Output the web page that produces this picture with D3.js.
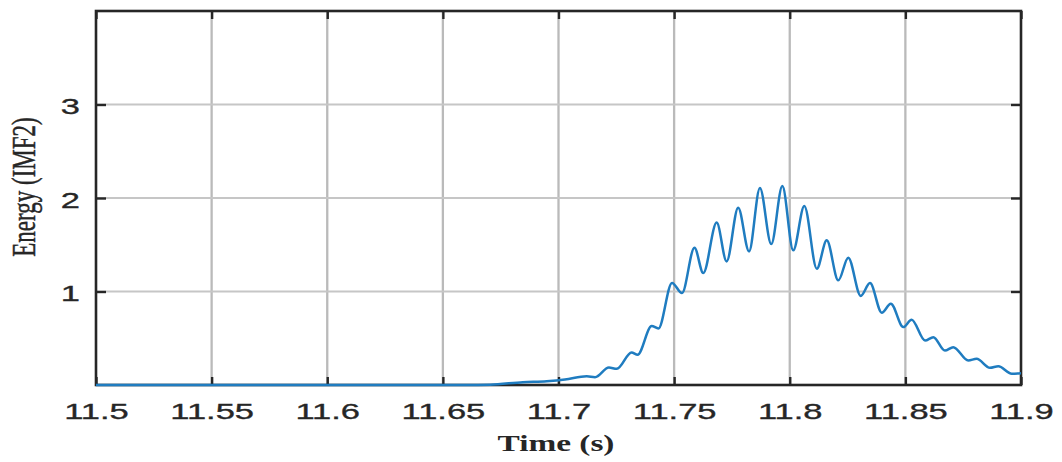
<!DOCTYPE html>
<html>
<head>
<meta charset="utf-8">
<script src="https://cdn.jsdelivr.net/npm/d3@7"></script>
<style>
  html, body { margin: 0; padding: 0; background: #fff; }
  svg { display: block; }
</style>
</head>
<body>
<svg id="chart" width="1062" height="462"></svg>
<script>
// Energy of IMF2 over time
const time = [11.5, 11.66, 11.6704, 11.6846, 11.6949, 11.7028, 11.7122, 11.7158, 11.7218, 11.7252,
  11.7316, 11.7342, 11.7403, 11.7432, 11.7491, 11.7534, 11.7588, 11.7626, 11.7684, 11.7727,
  11.7777, 11.7824, 11.7871, 11.7920, 11.7968, 11.8015, 11.8063, 11.8117, 11.8160, 11.8210,
  11.8253, 11.8307, 11.8347, 11.8398, 11.8437, 11.8491, 11.8527, 11.8585, 11.8621, 11.8671,
  11.8707, 11.8772, 11.8808, 11.8866, 11.8902, 11.8960, 11.9];
const energy = [0, 0, 0.004, 0.030, 0.041, 0.059, 0.094, 0.084, 0.187, 0.173,
  0.348, 0.324, 0.632, 0.605, 1.092, 0.983, 1.469, 1.197, 1.737, 1.322,
  1.897, 1.429, 2.107, 1.507, 2.128, 1.440, 1.914, 1.244, 1.547, 1.119,
  1.362, 0.953, 1.090, 0.773, 0.869, 0.619, 0.698, 0.476, 0.512, 0.369,
  0.405, 0.262, 0.281, 0.184, 0.201, 0.120, 0.126];

const xTicks = [11.5, 11.55, 11.6, 11.65, 11.7, 11.75, 11.8, 11.85, 11.9];
const xTickLabels = ["11.5", "11.55", "11.6", "11.65", "11.7", "11.75", "11.8", "11.85", "11.9"];
const yTicks = [1, 2, 3];
const yTickLabels = ["1", "2", "3"];

const xLabel = "Time (s)";
const yLabel = "Energy (IMF2)";

const svg = d3.select("#chart");
const L = 96, R = 1021, T = 11, B = 385;
const stretch = 1.5;   // wide glyph aspect
const ink = "#262626";

const x = d3.scaleLinear().domain([11.5, 11.9]).range([L, R]);
const y = d3.scaleLinear().domain([0, 4]).range([B, T]);

// grid
const grid = svg.append("g");
grid.selectAll("line.vg").data(xTicks.slice(1, -1)).join("line")
  .attr("x1", d => x(d)).attr("x2", d => x(d))
  .attr("y1", T).attr("y2", B)
  .attr("stroke", "#bababa").attr("stroke-width", 2.3);
grid.selectAll("line.hg").data(yTicks).join("line")
  .attr("x1", L).attr("x2", R)
  .attr("y1", d => y(d)).attr("y2", d => y(d))
  .attr("stroke", "#c6c6c6").attr("stroke-width", 1.8);

// axes (ticks pointing inward)
const fx = d => xTickLabels[xTicks.indexOf(d)];
const fy = d => yTickLabels[yTicks.indexOf(d)];

const axB = svg.append("g").attr("transform", `translate(0,${B})`)
  .call(d3.axisBottom(x).tickValues(xTicks).tickFormat(fx).tickSizeInner(-8).tickSizeOuter(0).tickPadding(0));
const axT = svg.append("g").attr("transform", `translate(0,${T})`)
  .call(d3.axisTop(x).tickValues(xTicks).tickFormat("").tickSizeInner(-8).tickSizeOuter(0));
const axL = svg.append("g").attr("transform", `translate(${L},0)`)
  .call(d3.axisLeft(y).tickValues(yTicks).tickFormat(fy).tickSizeInner(-10).tickSizeOuter(0));
const axR = svg.append("g").attr("transform", `translate(${R},0)`)
  .call(d3.axisRight(y).tickValues(yTicks).tickFormat("").tickSizeInner(-10).tickSizeOuter(0));

[axB, axT, axL, axR].forEach(a => {
  a.select(".domain").remove();
  a.selectAll(".tick line").attr("stroke", ink).attr("stroke-width", 2.4);
});

axB.selectAll(".tick text")
  .attr("y", 0).attr("dy", 0)
  .attr("transform", `translate(0,34) scale(${stretch},1)`)
  .attr("font-family", "'Liberation Sans', Arial, sans-serif")
  .attr("font-size", 23).attr("fill", ink)
  .attr("stroke", ink).attr("stroke-width", 0.35);

axL.selectAll(".tick text")
  .attr("x", 0).attr("dy", "0.36em")
  .attr("transform", `translate(-16,1) scale(${stretch},1)`)
  .attr("text-anchor", "end")
  .attr("font-family", "'Liberation Sans', Arial, sans-serif")
  .attr("font-size", 23).attr("fill", ink)
  .attr("stroke", ink).attr("stroke-width", 0.35);

// data line
svg.append("clipPath").attr("id", "plotClip")
  .append("rect").attr("x", L).attr("y", T - 2).attr("width", R - L).attr("height", B - T + 4);

const pts = time.map((t, i) => ({ t, v: energy[i] }));
const line = d3.line().x(d => x(d.t)).y(d => y(d.v)).curve(d3.curveMonotoneX);

// frame
svg.append("rect")
  .attr("x", L).attr("y", T).attr("width", R - L).attr("height", B - T)
  .attr("fill", "none").attr("stroke", ink).attr("stroke-width", 2.6);

svg.append("path").datum(pts)
  .attr("clip-path", "url(#plotClip)")
  .attr("d", line)
  .attr("fill", "none")
  .attr("stroke", "#1f7cc0")
  .attr("stroke-width", 2.5)
  .attr("stroke-linejoin", "round");

// axis titles
svg.append("text")
  .attr("transform", `translate(556,451) scale(1.45,1)`)
  .attr("text-anchor", "middle")
  .attr("font-family", "'Liberation Serif', 'Times New Roman', serif")
  .attr("font-size", 23).attr("font-weight", "bold").attr("fill", ink)
  .text(xLabel);

svg.append("text")
  .attr("transform", `translate(35,187) scale(1.5,1) rotate(-90)`)
  .attr("text-anchor", "middle")
  .attr("font-family", "'Liberation Serif', 'Times New Roman', serif")
  .attr("font-size", 23).attr("fill", ink)
  .attr("stroke", ink).attr("stroke-width", 0.3)
  .text(yLabel);
</script>
</body>
</html>
